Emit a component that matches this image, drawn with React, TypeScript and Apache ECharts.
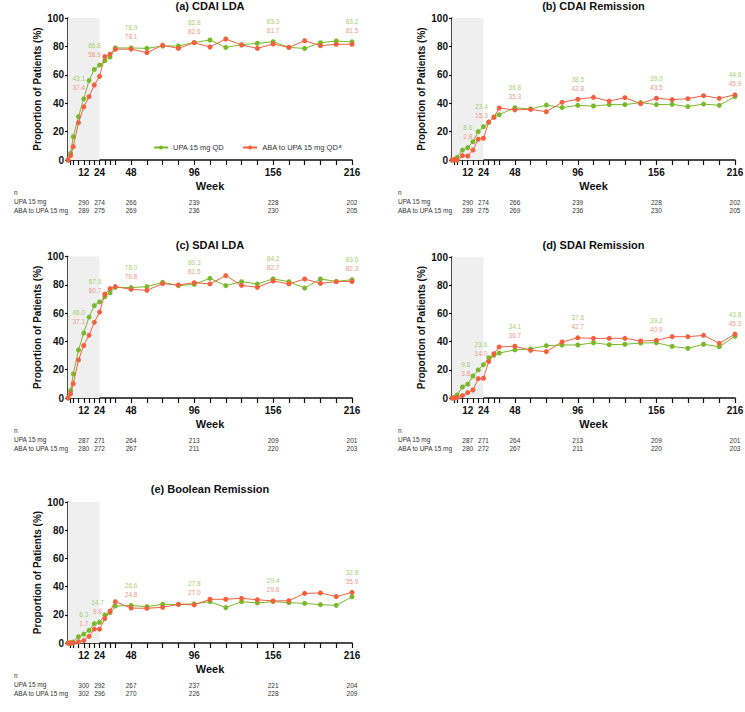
import React, { useEffect, useRef } from 'react';
import * as echarts from 'echarts';

const weeks = [0, 2, 4, 8, 12, 16, 20, 24, 28, 32, 36, 48, 60, 72, 84, 96, 108, 120, 132, 144, 156, 168, 180, 192, 204, 216];
const labelWeeks = [12, 24, 48, 96, 156, 216];
const tickWeeks = weeks.slice(1);

const cdaiLdaUpa = [0, 4.7, 16.4, 30.5, 43.1, 55.9, 63.8, 66.8, 70.0, 72.5, 78.9, 78.9, 78.6, 80.3, 80.3, 82.8, 84.5, 79.3, 81.2, 82.2, 83.3, 79.3, 78.6, 82.6, 83.8, 83.2];
const cdaiLdaAba = [0, 3.1, 9.4, 26.3, 37.4, 44.6, 52.8, 58.9, 72.8, 74.6, 78.0, 78.1, 75.6, 80.8, 78.6, 82.6, 79.6, 85.2, 81.0, 78.6, 81.7, 79.3, 84.0, 80.5, 81.5, 81.5];
const cdaiRemUpa = [0, 0.3, 1.9, 7.0, 8.6, 12.9, 20.0, 23.4, 26.5, 30.3, 31.9, 36.8, 35.9, 38.7, 36.9, 38.5, 38.0, 39.0, 39.0, 40.4, 39.0, 39.2, 37.6, 39.4, 38.5, 44.6];
const cdaiRemAba = [0, 0, 0, 3.1, 2.8, 7.0, 14.6, 15.3, 26.8, 30.0, 36.6, 35.3, 35.7, 34.0, 40.6, 42.8, 44.1, 41.5, 43.9, 39.7, 43.5, 42.5, 43.2, 45.3, 43.4, 45.9];
const sdaiLdaUpa = [0, 5.2, 17.0, 33.9, 46.0, 57.2, 65.3, 67.9, 71.6, 74.4, 78.2, 78.0, 78.7, 81.7, 79.4, 80.3, 84.6, 79.4, 82.2, 80.6, 84.2, 82.2, 77.7, 84.1, 82.4, 83.6];
const sdaiLdaAba = [0, 3.0, 10.1, 26.9, 37.1, 44.3, 53.5, 60.7, 73.3, 77.3, 78.7, 76.8, 76.1, 80.8, 79.9, 81.5, 80.6, 86.5, 79.6, 78.2, 82.7, 80.6, 84.1, 81.0, 82.2, 82.3];
const sdaiRemUpa = [0, 0.5, 2.1, 7.8, 9.8, 15.6, 19.9, 23.6, 28.6, 30.3, 31.9, 34.1, 34.8, 37.1, 37.6, 37.6, 39.2, 37.8, 38.1, 39.0, 39.2, 36.6, 35.2, 38.1, 36.4, 43.8];
const sdaiRemAba = [0, 0, 0.3, 1.7, 3.8, 5.7, 13.7, 14.0, 25.8, 31.4, 36.2, 36.7, 33.8, 32.9, 39.7, 42.7, 42.3, 42.3, 42.3, 40.4, 40.9, 43.5, 43.5, 44.4, 38.8, 45.3];
const boolRemUpa = [0, 0, 0.7, 4.5, 6.3, 9.0, 13.7, 14.7, 19.9, 21.5, 26.2, 26.6, 25.8, 27.4, 27.4, 27.8, 29.3, 25.1, 29.3, 28.4, 29.4, 28.6, 28.1, 27.2, 26.7, 32.8];
const boolRemAba = [0, 0, 0, 0.9, 1.7, 4.7, 9.9, 9.8, 17.3, 22.7, 29.3, 24.8, 24.6, 25.3, 27.4, 27.0, 31.0, 31.0, 31.7, 30.7, 29.8, 30.0, 35.2, 35.5, 32.9, 35.9];

const nCdaiUpa = [290, 274, 266, 239, 228, 202];
const nCdaiAba = [289, 275, 269, 236, 230, 205];
const nSdaiUpa = [287, 271, 264, 213, 209, 201];
const nSdaiAba = [280, 272, 267, 211, 220, 203];
const nBoolUpa = [300, 292, 267, 237, 221, 204];
const nBoolAba = [302, 296, 270, 226, 228, 209];

const titles = ['(a) CDAI LDA', '(b) CDAI Remission', '(c) SDAI LDA', '(d) SDAI Remission', '(e) Boolean Remission'];
const seriesNames = ['UPA 15 mg QD', 'ABA to UPA 15 mg QD'];
const rowNames = ['UPA 15 mg', 'ABA to UPA 15 mg'];

const panels = [
  { upa: cdaiLdaUpa, aba: cdaiLdaAba, nUpa: nCdaiUpa, nAba: nCdaiAba },
  { upa: cdaiRemUpa, aba: cdaiRemAba, nUpa: nCdaiUpa, nAba: nCdaiAba },
  { upa: sdaiLdaUpa, aba: sdaiLdaAba, nUpa: nSdaiUpa, nAba: nSdaiAba },
  { upa: sdaiRemUpa, aba: sdaiRemAba, nUpa: nSdaiUpa, nAba: nSdaiAba },
  { upa: boolRemUpa, aba: boolRemAba, nUpa: nBoolUpa, nAba: nBoolAba },
];

// layout / styling (pixel placement of panels and horizontal nudges of value labels)
const layout = [
  { left: 68, top: 18, width: 284, height: 142, titleTop: 0 },
  { left: 452, top: 18, width: 283, height: 142, titleTop: 0 },
  { left: 68, top: 256.5, width: 284, height: 141.5, titleTop: 239.5 },
  { left: 452, top: 257, width: 283, height: 141, titleTop: 239 },
  { left: 68, top: 502, width: 284, height: 141, titleTop: 483 },
];
const labelNudgeX = [
  [-5, -5, 0, 0, 0, 0],
  [0, -2, 0, 0, 0, 0],
  [-5, -4.5, 0, 0, 0, 0],
  [-2, -2.5, 0, 0, 0, 0],
  [0, -2, 0, 0, 0, 0],
];

const FONT = '"Liberation Sans", Arial, Helvetica, sans-serif';
const GREEN = '#78b82a';
const RED = '#f2603f';
const GREEN_TXT = '#8cc540';
const RED_TXT = '#f27a5e';
const AXIS = '#111';
const TABLE = '#333';

function buildOption() {
  const grid: any[] = [];
  const xAxis: any[] = [];
  const yAxis: any[] = [];
  const series: any[] = [];
  const title: any[] = [];
  const graphic: any[] = [];

  panels.forEach((p, i) => {
    const L = layout[i];
    grid.push({ left: L.left, top: L.top, width: L.width, height: L.height, containLabel: false, outerBoundsMode: 'none' });
    title.push({
      text: titles[i], left: L.left + L.width / 2, top: L.titleTop, textAlign: 'center', padding: 0,
      textStyle: { fontFamily: FONT, fontSize: 11, fontWeight: 'bold', color: '#111' },
    });
    xAxis.push({
      type: 'value', gridIndex: i, min: 0, max: 216, position: 'bottom',
      name: 'Week', nameLocation: 'middle', nameGap: 20,
      nameTextStyle: { fontFamily: FONT, fontSize: 11, fontWeight: 'bold', color: '#111' },
      axisLine: { show: true, onZero: false, lineStyle: { color: AXIS, width: 1.5 } },
      axisTick: { show: true, customValues: tickWeeks, length: 5, lineStyle: { color: AXIS, width: 1.2 } },
      axisLabel: { customValues: labelWeeks, fontFamily: FONT, fontSize: 10, fontWeight: 'bold', color: '#111', margin: 7, hideOverlap: false },
      splitLine: { show: false },
    });
    [p.nUpa, p.nAba].forEach((nArr, r) => {
      xAxis.push({
        type: 'value', gridIndex: i, min: 0, max: 216, position: 'bottom', offset: r === 0 ? 42 : 50.5,
        axisLine: { show: false }, axisTick: { show: false }, splitLine: { show: false },
        axisLabel: {
          customValues: labelWeeks, margin: 0, verticalAlign: 'middle', hideOverlap: false,
          fontFamily: FONT, fontSize: 6.5, color: TABLE,
          formatter: (v: number) => String(nArr[labelWeeks.indexOf(v)]),
        },
      });
    });
    yAxis.push({
      type: 'value', gridIndex: i, min: 0, max: 100, interval: 20,
      name: 'Proportion of Patients (%)', nameLocation: 'middle', nameGap: 26, nameRotate: 90,
      nameTextStyle: { fontFamily: FONT, fontSize: 10, fontWeight: 'bold', color: '#111' },
      axisLine: { show: true, onZero: false, lineStyle: { color: AXIS, width: 1.5 } },
      axisTick: { show: true, length: 3, lineStyle: { color: AXIS, width: 1.2 } },
      axisLabel: { fontFamily: FONT, fontSize: 10, fontWeight: 'bold', color: '#111', margin: 4 },
      splitLine: { show: false },
    });
    const xi = i * 3;
    series.push({
      type: 'line', name: seriesNames[0], xAxisIndex: xi, yAxisIndex: i,
      data: weeks.map((w, k) => [w, p.upa[k]]),
      symbol: 'circle', symbolSize: 5, itemStyle: { color: GREEN }, lineStyle: { color: GREEN, width: 1 },
      z: 3,
      markArea: {
        silent: true, itemStyle: { color: '#efefef' },
        data: [[{ xAxis: 0, yAxis: 0 }, { xAxis: 24, yAxis: 100 }]],
      },
    });
    series.push({
      type: 'line', name: seriesNames[1], xAxisIndex: xi, yAxisIndex: i,
      data: weeks.map((w, k) => [w, p.aba[k]]),
      symbol: 'circle', symbolSize: 5, itemStyle: { color: RED }, lineStyle: { color: RED, width: 1 },
      z: 4,
    });
    series.push({
      type: 'scatter', name: 'annot' + i, xAxisIndex: xi, yAxisIndex: i, silent: true,
      symbolSize: 1, itemStyle: { color: 'rgba(0,0,0,0)' }, z: 5,
      data: labelWeeks.map((w, j) => {
        const k = weeks.indexOf(w);
        return {
          value: [w, Math.max(p.upa[k], p.aba[k])],
          g: p.upa[k].toFixed(1), r: p.aba[k].toFixed(1),
          label: { offset: [labelNudgeX[i][j], 0] },
        };
      }),
      label: {
        show: true, position: 'top', distance: 6,
        formatter: (prm: any) => `{g|${prm.data.g}}\n{r|${prm.data.r}}`,
        rich: {
          g: { fontFamily: FONT, fontSize: 6.5, color: GREEN_TXT, lineHeight: 9 },
          r: { fontFamily: FONT, fontSize: 6.5, color: RED_TXT, lineHeight: 9 },
        },
      },
    });
    const bottom = L.top + L.height;
    [['n', 33], [rowNames[0], 42], [rowNames[1], 50.5]].forEach(([t, dy]) => {
      graphic.push({
        type: 'text', left: L.left - 54, top: bottom + (dy as number) - 4,
        style: { text: t as string, fontFamily: FONT, fontSize: 6.5, fill: TABLE },
      });
    });
  });

  return {
    animation: false,
    backgroundColor: '#ffffff',
    title,
    grid,
    xAxis,
    yAxis,
    series,
    graphic,
    legend: {
      data: seriesNames, left: 153, top: 143, padding: 0, itemWidth: 14, itemHeight: 5, itemGap: 18,
      textStyle: {
        fontFamily: FONT, fontSize: 7.5, color: '#333',
        rich: { sup: { fontFamily: FONT, fontSize: 5, color: '#333', padding: [0, 0, 4, 0] } },
      },
      formatter: (name: string) => (name === seriesNames[1] ? name + '{sup|a}' : name),
      selectedMode: false,
    },
  };
}

export default function App() {
  const ref = useRef<HTMLDivElement>(null);
  useEffect(() => {
    if (!ref.current) return;
    const chart = echarts.init(ref.current, undefined, { renderer: 'svg' });
    chart.setOption(buildOption() as any);
    return () => chart.dispose();
  }, []);
  return (
    <div
      ref={ref}
      style={{ position: 'absolute', left: 0, top: 0, width: 745, height: 712, background: '#fff' }}
    />
  );
}
